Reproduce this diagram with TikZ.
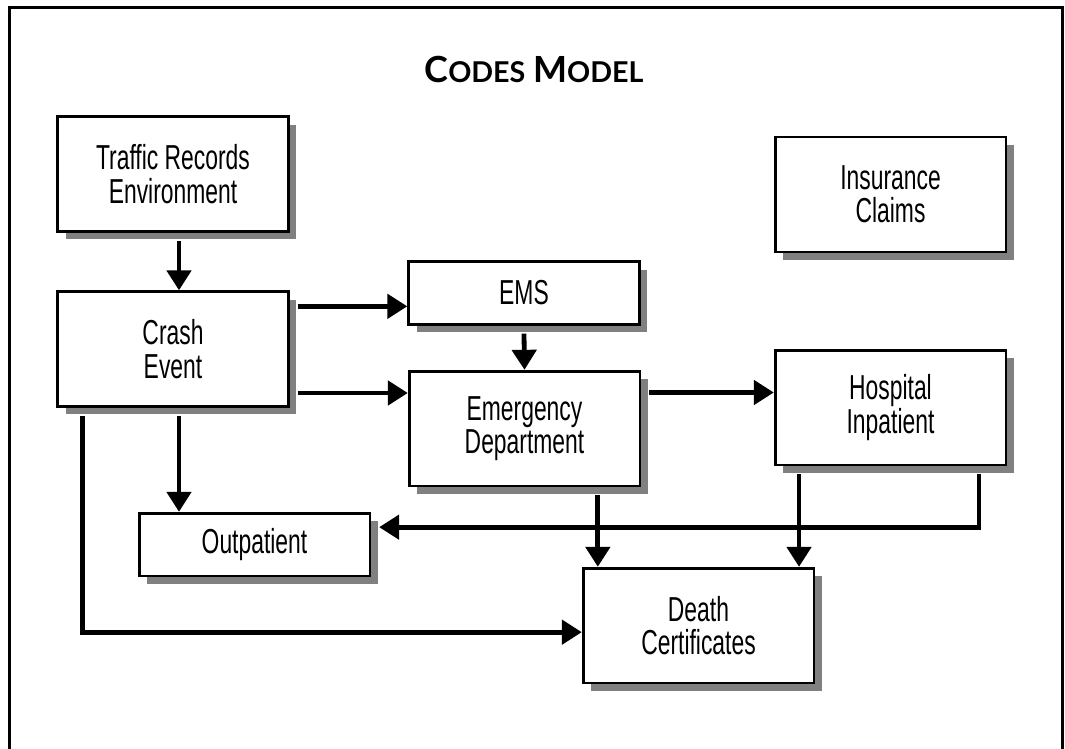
\documentclass[tikz,border=0pt]{standalone}
\usepackage{fontspec}
\setmainfont{Liberation Sans}
\newfontfamily\boxfont[FakeStretch=0.66]{Liberation Sans}
\newfontfamily\titlefont{Lato}
\usetikzlibrary{arrows.meta,shadows}
\definecolor{shadowgray}{RGB}{128,128,128}

\newcommand{\capbig}[1]{{\fontsize{27pt}{30pt}\selectfont #1}}
\newcommand{\capsmall}[1]{{\fontsize{21.5pt}{30pt}\selectfont #1}}

\tikzset{
  box/.style={draw, line width=2pt, fill=white, align=center,
    minimum width=173pt, minimum height=86pt, inner sep=0pt,
    font=\boxfont\fontsize{26pt}{25pt}\selectfont,
    drop shadow={shadow xshift=6pt, shadow yshift=-6pt, fill=shadowgray, opacity=1}},
  flatbox/.style={box, minimum height=47pt},
  flow/.style={line width=3.6pt, -{Triangle[length=15pt,width=18pt]}},
  title/.style={font=\titlefont\bfseries\fontsize{24pt}{30pt}\selectfont, anchor=base}
}

\begin{document}
\begin{tikzpicture}[x=0.75pt, y=-0.75pt]
  \useasboundingbox (0,0) rectangle (1065,749);
  \draw [line width=2.25pt] (9.5,749) -- (9.5,7.5) -- (1062.5,7.5) -- (1062.5,749);

  \node [title] (heading) at (534,83) {\capbig{C}\capsmall{ODES} \capbig{M}\capsmall{ODEL}};

  \node [box]      (traffic)    at (173,174)   {Traffic Records\\Environment};
  \node [box]      (crash)      at (173,349)   {Crash\\Event};
  \node [flatbox]  (ems)        at (524,293)   {EMS};
  \node [box]      (ed)         at (524.5,428.5) {Emergency\\Department};
  \node [box]      (hospital)   at (890.5,407.5) {Hospital\\Inpatient};
  \node [box]      (insurance)  at (890.5,194.5) {Insurance\\Claims};
  \node [flatbox]  (outpatient) at (254.5,544.5) {Outpatient};
  \node [box]      (death)      at (698.5,625.5) {Death\\Certificates};

  \draw [flow] ([xshift=4.5pt,yshift=-6pt]traffic.south) -- ([xshift=4.5pt]crash.north);
  \draw [flow] ([xshift=6pt,yshift=32pt]crash.east) -- ([yshift=32pt]crash.east -| ems.west);
  \draw [flow] ([xshift=6pt,yshift=-33pt]crash.east) -- ([yshift=-33pt]crash.east -| ed.west);
  \draw [flow] ([yshift=-6pt]ems.south) -- (ed.north);
  \draw [flow] ([xshift=6pt,yshift=27pt]ed.east) -- ([yshift=27pt]ed.east -| hospital.west);
  \draw [flow] ([xshift=4.5pt,yshift=-6pt]crash.south) -- ([xshift=4.5pt]crash.south |- outpatient.north);
  \draw [flow] ([xshift=-68pt,yshift=-6pt]crash.south) |- ([yshift=-5pt]death.west);
  \draw [flow] ([xshift=55pt,yshift=-6pt]ed.south) -- ([xshift=55pt]ed.south |- death.north);
  \draw [flow] ([xshift=-68.6pt,yshift=-6pt]hospital.south) -- ([xshift=-68.6pt]hospital.south |- death.north);
  \draw [flow] ([xshift=66.4pt,yshift=-6pt]hospital.south) |- ([xshift=6pt,yshift=13pt]outpatient.east);
\end{tikzpicture}
\end{document}
